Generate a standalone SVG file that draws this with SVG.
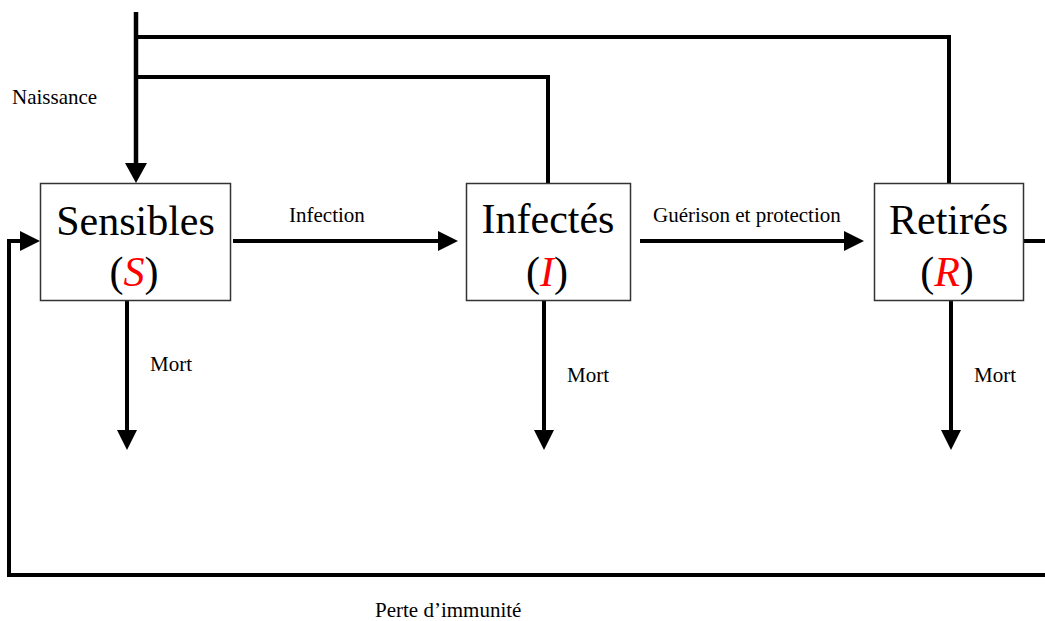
<svg xmlns="http://www.w3.org/2000/svg" width="1045" height="621" viewBox="0 0 1045 621">
<style>
.box{fill:#fff;stroke:#333;stroke-width:1.5}
.big{font-size:42px;fill:#000;text-anchor:middle}
.var{fill:#f00;font-style:italic}
.lbl{font-size:21px;fill:#000}
.conn{fill:none;stroke:#000;stroke-width:4;stroke-linejoin:miter}
</style>
<defs>
<marker id="ah" markerUnits="userSpaceOnUse" markerWidth="20" markerHeight="20" viewBox="0 0 20 20" refX="0" refY="10" orient="auto">
<path d="M0,0 L20,10 L0,20 z" fill="#000"/>
</marker>
<marker id="ahw" markerUnits="userSpaceOnUse" markerWidth="20" markerHeight="22" viewBox="0 0 20 22" refX="0" refY="11" orient="auto">
<path d="M0,0 L20,11 L0,22 z" fill="#000"/>
</marker>
</defs>
<g id="connectors">
<path class="conn" d="M136,37 H949 V183"/>
<path class="conn" d="M136,77 H548 V183"/>
<path class="conn" d="M136,12 V163" style="stroke-width:4.5" marker-end="url(#ahw)"/>
<path class="conn" d="M233,241 H438" marker-end="url(#ah)"/>
<path class="conn" d="M640,241 H844" marker-end="url(#ah)"/>
<path class="conn" d="M1023,241 H1052 V575 H9 V241 H20" marker-end="url(#ah)"/>
<path class="conn" d="M127,301 V430" marker-end="url(#ah)"/>
<path class="conn" d="M544,301 V430" marker-end="url(#ah)"/>
<path class="conn" d="M951,301 V430" marker-end="url(#ah)"/>
</g>
<g id="labels" font-family="Liberation Serif, DejaVu Serif, serif">
<text class="lbl" x="12" y="104">Naissance</text>
<text class="lbl" x="289" y="222">Infection</text>
<text class="lbl" x="653" y="222">Guérison et protection</text>
<text class="lbl" x="150" y="371">Mort</text>
<text class="lbl" x="567" y="382">Mort</text>
<text class="lbl" x="974" y="382">Mort</text>
<text class="lbl" x="375" y="617">Perte d’immunité</text>
</g>
<g id="node-S" font-family="Liberation Serif, DejaVu Serif, serif">
<rect class="box" x="40.5" y="183.5" width="190" height="117"/>
<text class="big" x="135.5" y="235">Sensibles</text>
<text class="big" x="134" y="286">(<tspan class="var">S</tspan>)</text>
</g>
<g id="node-I" font-family="Liberation Serif, DejaVu Serif, serif">
<rect class="box" x="466.5" y="183.5" width="164" height="117"/>
<text class="big" x="548" y="233">Infectés</text>
<text class="big" x="547" y="286">(<tspan class="var">I</tspan>)</text>
</g>
<g id="node-R" font-family="Liberation Serif, DejaVu Serif, serif">
<rect class="box" x="874.5" y="183.5" width="149" height="117"/>
<text class="big" x="948.5" y="234">Retirés</text>
<text class="big" x="947" y="286">(<tspan class="var">R</tspan>)</text>
</g>
</svg>
